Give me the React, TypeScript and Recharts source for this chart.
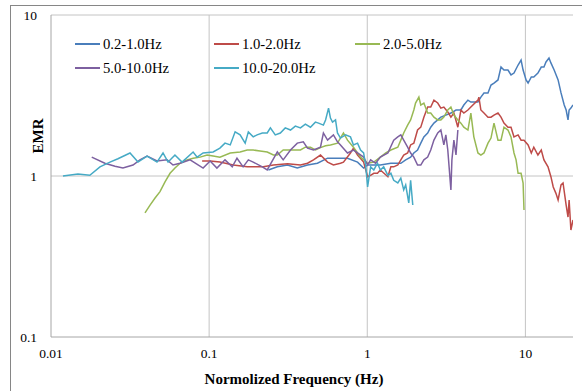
import React from "react";
import {
  LineChart,
  Line,
  XAxis,
  YAxis,
  CartesianGrid,
  Legend,
} from "recharts";

// [frequency (Hz), EMR]
const band02to10: [number, number][] = [
  [0.237, 1.09], [0.27, 1.14], [0.313, 1.17], [0.361, 1.12], [0.419, 1.17],
  [0.484, 1.2], [0.561, 1.29], [0.611, 1.29], [0.75, 1.29], [0.868, 1.22],
  [0.948, 1.12], [1.005, 1.17], [1.13, 1.17], [1.21, 1.17], [1.41, 1.2],
  [1.63, 1.2], [1.75, 1.26], [1.88, 1.31], [1.97, 1.39], [2.08, 1.45],
  [2.18, 1.6], [2.28, 1.75], [2.41, 1.85], [2.52, 2.01], [2.64, 2.13],
  [2.79, 2.23], [2.92, 2.32], [3.14, 2.39], [3.38, 2.46], [3.64, 2.57],
  [3.91, 2.57], [4.08, 2.76], [4.33, 2.96], [4.52, 2.88], [5.01, 2.88],
  [5.23, 3.09], [5.47, 3.28], [5.8, 3.28], [6.06, 3.67], [6.33, 3.78],
  [6.71, 3.95], [7.01, 4.75], [7.32, 4.55], [7.76, 4.55], [8.11, 4.24],
  [8.47, 4.36], [8.99, 4.89], [9.39, 5.25], [9.67, 4.55], [10.1, 3.95],
  [10.4, 3.78], [10.9, 4.12], [11.3, 4.12], [12.0, 4.36], [12.6, 4.75],
  [13.1, 4.75], [13.5, 5.11], [14.1, 5.41], [14.5, 5.04], [15.2, 4.55],
  [16.1, 3.95], [16.8, 3.28], [17.6, 2.76], [18.1, 2.57], [18.6, 2.23],
  [18.9, 2.57], [19.4, 2.64], [20.0, 2.76],
];

const band10to20: [number, number][] = [
  [0.0903, 1.24], [0.1015, 1.24], [0.117, 1.22], [0.142, 1.17], [0.174, 1.14],
  [0.22, 1.14], [0.255, 1.17], [0.313, 1.19], [0.378, 1.17], [0.419, 1.2],
  [0.457, 1.26], [0.506, 1.35], [0.561, 1.22], [0.611, 1.17], [0.677, 1.2],
  [0.707, 1.22], [0.783, 1.39], [0.818, 1.49], [0.868, 1.35], [0.948, 1.22],
  [1.005, 0.99], [1.05, 1.01], [1.1, 1.04], [1.16, 1.04], [1.21, 1.09],
  [1.35, 0.99], [1.41, 1.14], [1.47, 1.14], [1.56, 1.17], [1.63, 1.26],
  [1.7, 1.35], [1.8, 1.39], [1.88, 1.56], [1.97, 1.6], [2.08, 1.93],
  [2.18, 2.01], [2.28, 2.32], [2.41, 2.68], [2.52, 2.68], [2.64, 2.96],
  [2.79, 2.84], [2.92, 2.64], [3.05, 2.68], [3.23, 2.5], [3.38, 2.32],
  [3.53, 2.46], [3.74, 2.01], [3.91, 2.57], [4.08, 2.46], [4.33, 2.57],
  [4.52, 2.68], [5.01, 2.96], [5.08, 3.09], [5.23, 2.57], [5.47, 2.46],
  [5.8, 2.32], [6.06, 2.32], [6.33, 2.39], [6.71, 2.46], [7.01, 2.32],
  [7.32, 2.13], [7.76, 2.01], [8.11, 2.01], [8.47, 1.75], [8.99, 1.8],
  [9.39, 1.67], [9.8, 1.67], [10.4, 1.56], [10.9, 1.39], [11.3, 1.51],
  [12.0, 1.35], [12.6, 1.45], [13.1, 1.26], [13.9, 1.14], [14.5, 0.99],
  [15.0, 0.855], [15.6, 0.78], [16.1, 0.71], [16.8, 0.88], [17.3, 0.905],
  [18.1, 0.66], [18.6, 0.556], [18.9, 0.71], [19.4, 0.462], [20.0, 0.533],
];

const band20to50: [number, number][] = [
  [0.0393, 0.59], [0.0423, 0.66], [0.0455, 0.73], [0.0489, 0.8], [0.0526, 0.92],
  [0.0566, 1.04], [0.0608, 1.12], [0.0655, 1.2], [0.0725, 1.26], [0.0792, 1.29],
  [0.0877, 1.31], [0.0971, 1.35], [0.106, 1.33], [0.117, 1.31], [0.136, 1.39],
  [0.157, 1.41], [0.174, 1.45], [0.19, 1.45], [0.21, 1.43], [0.233, 1.41],
  [0.255, 1.35], [0.27, 1.35], [0.294, 1.45], [0.327, 1.45], [0.378, 1.45],
  [0.406, 1.51], [0.437, 1.51], [0.47, 1.45], [0.506, 1.5], [0.545, 1.54],
  [0.585, 1.56], [0.648, 1.6], [0.707, 1.85], [0.75, 1.67], [0.818, 1.51],
  [0.907, 1.31], [1.005, 1.2], [1.1, 1.22], [1.21, 1.31], [1.31, 1.39],
  [1.41, 1.45], [1.56, 1.51], [1.63, 1.67], [1.7, 1.85], [1.8, 2.07],
  [1.88, 2.23], [1.97, 2.57], [2.02, 2.84], [2.12, 3.09], [2.18, 2.76],
  [2.28, 2.84], [2.41, 2.46], [2.52, 2.46], [2.64, 2.32], [2.79, 2.23],
  [2.92, 2.23], [3.05, 2.32], [3.23, 2.57], [3.38, 2.68], [3.53, 2.39],
  [3.74, 2.23], [3.91, 2.13], [4.08, 2.01], [4.33, 1.93], [4.52, 2.46],
  [4.72, 1.75], [5.01, 1.39], [5.23, 1.35], [5.47, 1.39], [5.8, 1.6],
  [6.06, 1.72], [6.33, 2.13], [6.71, 1.67], [7.01, 1.67], [7.32, 2.01],
  [7.76, 1.93], [8.11, 1.75], [8.47, 1.39], [8.73, 1.26], [8.99, 1.04],
  [9.39, 1.04], [9.67, 0.905], [9.8, 0.615],
];

const band50to100: [number, number][] = [
  [0.0181, 1.31], [0.0219, 1.2], [0.0254, 1.15], [0.0285, 1.12], [0.033, 1.17],
  [0.0365, 1.26], [0.0405, 1.33], [0.0468, 1.24], [0.0542, 1.26], [0.0591, 1.17],
  [0.0655, 1.2], [0.0758, 1.26], [0.0916, 1.12], [0.1015, 1.24], [0.112, 1.12],
  [0.126, 1.26], [0.14, 1.14], [0.15, 1.29], [0.164, 1.14], [0.177, 1.26],
  [0.19, 1.22], [0.217, 1.14], [0.233, 1.09], [0.27, 1.41], [0.294, 1.26],
  [0.327, 1.45], [0.361, 1.6], [0.394, 1.63], [0.419, 1.49], [0.457, 1.45],
  [0.506, 1.51], [0.528, 1.85], [0.561, 1.67], [0.611, 1.8], [0.648, 1.63],
  [0.677, 1.56], [0.75, 1.39], [0.818, 1.45], [0.868, 1.39], [0.948, 1.31],
  [1.005, 1.17], [1.05, 1.26], [1.13, 1.2], [1.21, 1.31], [1.35, 1.39],
  [1.47, 1.67], [1.56, 1.75], [1.63, 1.8], [1.7, 1.67], [1.8, 1.51],
  [1.88, 1.39], [1.97, 1.31], [2.08, 1.17], [2.18, 1.17], [2.28, 1.26],
  [2.41, 1.31], [2.52, 1.45], [2.64, 1.67], [2.79, 1.85], [2.92, 1.93],
  [3.05, 1.56], [3.14, 1.8], [3.23, 1.45], [3.38, 0.82], [3.43, 1.26],
  [3.53, 1.67], [3.64, 1.35], [3.74, 1.93],
];

const band100to200: [number, number][] = [
  [0.0119, 1.0], [0.0148, 1.03], [0.0176, 1.01], [0.0204, 1.14], [0.0236, 1.22],
  [0.0265, 1.28], [0.0316, 1.39], [0.0355, 1.22], [0.0405, 1.33], [0.0468, 1.22],
  [0.0511, 1.39], [0.055, 1.22], [0.0608, 1.35], [0.0674, 1.22], [0.0792, 1.41],
  [0.084, 1.31], [0.0916, 1.39], [0.106, 1.41], [0.117, 1.49], [0.126, 1.6],
  [0.136, 1.56], [0.146, 1.88], [0.157, 1.8], [0.169, 1.6], [0.177, 1.88],
  [0.19, 1.75], [0.201, 1.8], [0.217, 1.85], [0.233, 1.85], [0.244, 1.99],
  [0.262, 1.8], [0.282, 1.85], [0.303, 1.99], [0.327, 1.93], [0.351, 2.04],
  [0.378, 1.99], [0.406, 2.1], [0.437, 2.01], [0.47, 2.16], [0.492, 2.13],
  [0.528, 2.07], [0.545, 2.23], [0.569, 2.64], [0.585, 2.29], [0.603, 2.16],
  [0.63, 2.23], [0.648, 1.85], [0.677, 1.72], [0.729, 1.8], [0.783, 1.75],
  [0.818, 1.56], [0.868, 1.6], [0.907, 1.45], [0.948, 1.39], [0.977, 1.17],
  [1.005, 0.855], [1.05, 1.14], [1.1, 1.09], [1.16, 1.2], [1.21, 1.09],
  [1.27, 1.14], [1.35, 1.01], [1.41, 1.04], [1.47, 0.94], [1.56, 0.905],
  [1.63, 0.97], [1.7, 0.82], [1.75, 0.88], [1.83, 0.68], [1.88, 0.94],
  [1.94, 0.66],
];

const seriesNames = ["0.2-1.0Hz", "1.0-2.0Hz", "2.0-5.0Hz", "5.0-10.0Hz", "10.0-20.0Hz"];
const seriesColors = ["#4a7ebb", "#be4b48", "#98b954", "#7d60a0", "#46aac5"];
const seriesData = [band02to10, band10to20, band20to50, band50to100, band100to200];

const xTicks = [0.01, 0.1, 1, 10];
const yTicks = [0.1, 1, 10];

const FONT = "'Liberation Serif', 'Times New Roman', serif";

// legend slot positions (line start x, row centre y)
const legendSlots = [
  [75, 44], [214, 44], [355, 44], [75, 68], [214, 68],
];

const LegendBox = () => (
  <div style={{ position: "relative", width: 582, height: 100 }}>
    {seriesNames.map((name, i) => (
      <div
        key={name}
        style={{
          position: "absolute",
          left: legendSlots[i][0],
          top: legendSlots[i][1] - 10,
          height: 20,
          display: "flex",
          alignItems: "center",
          fontFamily: FONT,
          fontSize: 14.7,
          color: "#000",
          whiteSpace: "nowrap",
        }}
      >
        <span
          style={{
            display: "inline-block",
            width: 25,
            height: 2,
            background: seriesColors[i],
            marginRight: 3,
          }}
        />
        {name}
      </div>
    ))}
  </div>
);

const App: React.FC = () => {
  const lines = seriesData.map((arr) => arr.map(([f, emr]) => ({ f, emr })));
  return (
    <div
      style={{
        position: "absolute",
        left: 0,
        top: 0,
        width: 582,
        height: 391,
        overflow: "hidden",
        background: "#fff",
      }}
    >
      <div
        style={{
          position: "absolute",
          left: 10,
          top: 5,
          width: 700,
          height: 500,
          border: "1px solid #868686",
        }}
      />
      <div style={{ position: "absolute", left: 0, top: 0 }}>
        <LineChart
          width={582}
          height={391}
          margin={{ top: 15, right: 9, bottom: 0, left: 0 }}
        >
          <CartesianGrid
            stroke="#c4c4c4"
            horizontalValues={[1, 10]}
            verticalValues={[0.1, 1, 10]}
          />
          <XAxis
            dataKey="f"
            type="number"
            scale="log"
            domain={[0.01, 20]}
            ticks={xTicks}
            allowDataOverflow
            height={54}
            tickLine={false}
            tickSize={0}
            tickMargin={11}
            axisLine={{ stroke: "#a6a6a6" }}
            tick={{ fontFamily: FONT, fontSize: 13.5, fill: "#000" }}
            label={{
              content: (props: any) => {
                const vb = props.viewBox || {};
                return (
                  <text
                    x={294}
                    y={vb.y + vb.height - 7}
                    textAnchor="middle"
                    fontFamily={FONT}
                    fontSize={15}
                    fontWeight="bold"
                    fill="#000"
                  >
                    Normolized Frequency (Hz)
                  </text>
                );
              },
            }}
          />
          <YAxis
            type="number"
            scale="log"
            domain={[0.1, 10]}
            ticks={yTicks}
            allowDataOverflow
            width={51}
            tickLine={false}
            tickSize={0}
            tickMargin={14}
            axisLine={{ stroke: "#a6a6a6" }}
            tick={{ fontFamily: FONT, fontSize: 13.5, fill: "#000" }}
            tickFormatter={(v: number) => String(v)}
            label={{
              content: () => (
                <text
                  x={38}
                  y={136}
                  transform="rotate(-90, 38, 136)"
                  textAnchor="middle"
                  dominantBaseline="central"
                  fontFamily={FONT}
                  fontSize={15}
                  fontWeight="bold"
                  fill="#000"
                >
                  EMR
                </text>
              ),
            }}
          />
          <Legend
            verticalAlign="middle"
            align="center"
            content={() => <LegendBox />}
            wrapperStyle={{ left: 0, top: 0, width: 582 }}
          />
          {lines.map((data, i) => (
            <Line
              key={seriesNames[i]}
              data={data}
              dataKey="emr"
              name={seriesNames[i]}
              type="linear"
              stroke={seriesColors[i]}
              strokeWidth={1.5}
              dot={false}
              isAnimationActive={false}
            />
          ))}
        </LineChart>
      </div>
    </div>
  );
};

export default App;
